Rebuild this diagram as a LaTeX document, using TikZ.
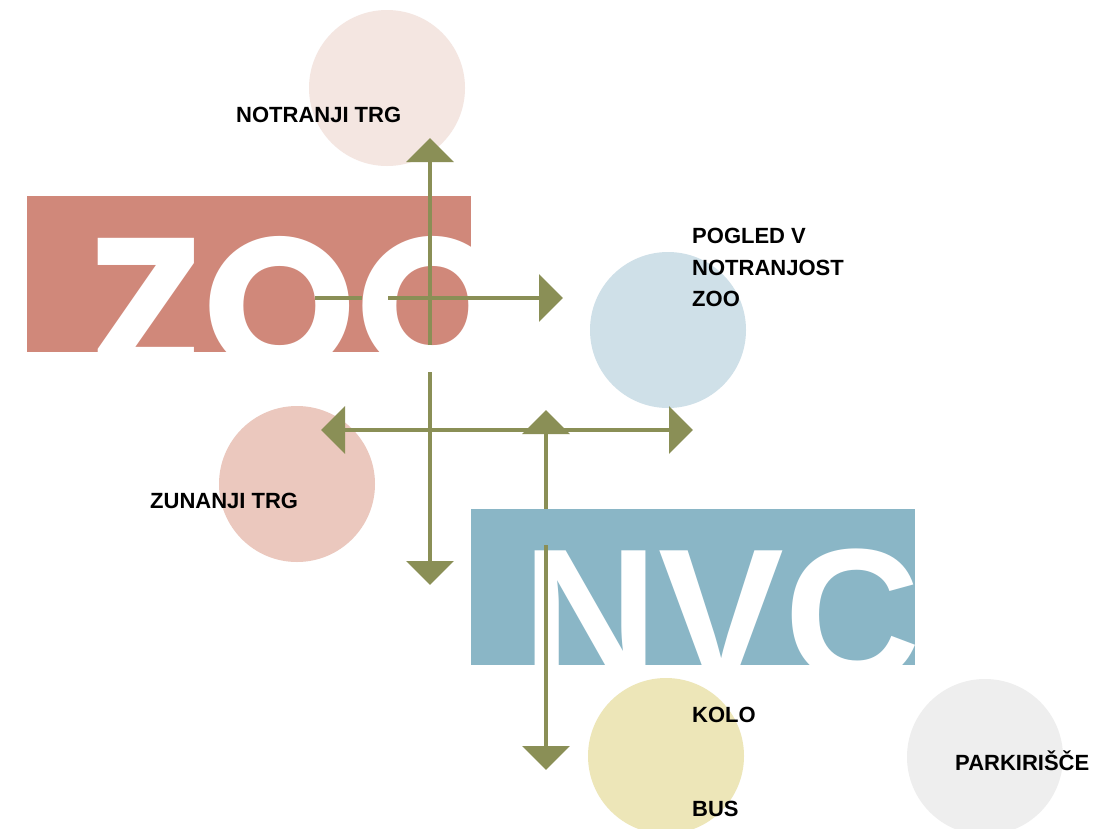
\documentclass[tikz,border=0pt]{standalone}
\usepackage{fontspec}
\setmainfont{Liberation Sans}
\newfontfamily\zoofont{Poppins}
\newfontfamily\nvcfont{Liberation Sans}
\usetikzlibrary{arrows.meta}
\definecolor{arrowgreen}{RGB}{138,143,86}
\definecolor{zoored}{RGB}{208,136,122}
\definecolor{nvcblue}{RGB}{138,182,198}
\definecolor{cpink}{RGB}{244,230,225}
\definecolor{cblue}{RGB}{207,224,232}
\definecolor{crose}{RGB}{235,200,190}
\definecolor{cyellow}{RGB}{237,230,184}
\definecolor{cgrey}{RGB}{238,238,238}
\tikzset{
  circ/.style={circle, minimum size=156pt, inner sep=0pt, draw=none},
  lbl/.style={anchor=base west, inner sep=0pt, font=\fontsize{22}{31.5}\selectfont\bfseries},
  blockbox/.style={anchor=north west, inner sep=0pt, minimum width=444pt, minimum height=156pt, draw=none},
  bigzoo/.style={anchor=base west, inner sep=0pt, text=white, text depth=0pt, font=\zoofont\fontsize{194}{194}\selectfont\bfseries},
  bignvc/.style={anchor=base west, inner sep=0pt, text=white, text depth=0pt, font=\nvcfont\fontsize{188.5}{188.5}\selectfont\bfseries},
  conn/.style={draw=arrowgreen, line width=3.8pt},
  tip/.tip={Triangle[length=24pt, width=47pt]},
  arr/.style={conn, -tip},
  darr/.style={conn, tip-tip},
}
\begin{document}
\begin{tikzpicture}[x=1pt, y=-1pt]
\useasboundingbox (0,0) rectangle (1097,828);
\fill[white] (0,0) rectangle (1097,828);

% circles
\node[circ, fill=cpink] (ntrg) at (387,88) {};
\node[circ, fill=cblue] (pogled) at (668,330) {};
\node[circ, fill=crose] (ztrg) at (297,484) {};
\node[circ, fill=cyellow] (kolo) at (666,756) {};
\node[circ, fill=cgrey] (park) at (985,757) {};

% labels
\node[lbl] (lntrg) at (236,122) {NOTRANJI TRG};
\node[lbl, anchor=north west, align=left] (lpogled) at (692,228) {POGLED V\\NOTRANJOST\\ZOO};
\node[lbl] (lztrg) at (150,508) {ZUNANJI TRG};
\node[lbl] (lkolo) at (692,722) {KOLO};
\node[lbl] (lbus) at (692,816) {BUS};
\node[lbl] (lpark) at (955,770) {PARKIRIŠČE};

% ZOO block
\node[blockbox, fill=zoored] (zoobox) at (27,196) {};
\begin{scope}
  \clip (zoobox.south west) rectangle (zoobox.north east);
  \node[bigzoo] (zootext) at (88,374) {ZOO};
\end{scope}

% NVC block
\node[blockbox, fill=nvcblue] (nvcbox) at (471,509) {};
\begin{scope}
  \clip (nvcbox.south west) rectangle (nvcbox.north east);
  \node[bignvc] (nvctext) at (522,680) {NVC};
\end{scope}

% arrow coordinates
\coordinate (upS) at (430,345);
\coordinate (upT) at (430,138);
\coordinate (stubA) at (315,298);
\coordinate (stubB) at (362,298);
\coordinate (rS) at (388,298);
\coordinate (rT) at (563,298);
\coordinate (dnS) at (430,372);
\coordinate (dnT) at (430,585);
\coordinate (hL) at (321,430);
\coordinate (hR) at (693,430);
\coordinate (vU) at (546,410);
\coordinate (vA) at (546,509);
\coordinate (vB) at (546,545);
\coordinate (vD) at (546,770);

% arrows
\draw[arr] (upS) -- (upT);
\draw[conn] (stubA) -- (stubB);
\draw[arr] (rS) -- (rT);
\draw[arr] (dnS) -- (dnT);
\draw[darr] (hL) -- (hR);
\draw[arr] (vA) -- (vU);
\draw[arr] (vB) -- (vD);
\end{tikzpicture}
\end{document}
